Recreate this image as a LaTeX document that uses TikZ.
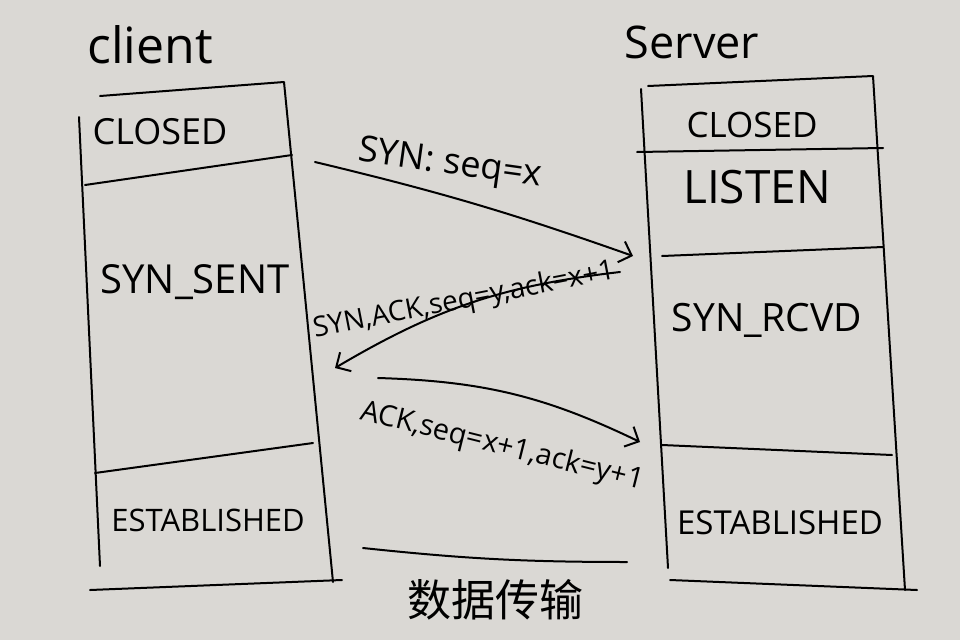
\documentclass[tikz,border=0pt]{standalone}
\usepackage{fontspec}
\setmainfont{Open Sans}
\newfontfamily\cjk{Noto Sans CJK SC}
\usetikzlibrary{arrows.meta}
\definecolor{paper}{RGB}{218,216,212}
\newcommand{\fs}[1]{\fontsize{#1}{#1}\selectfont}
\tikzset{
  pen/.style={line width=2pt, line cap=round, line join=round},
  msg/.style={pen, -{Straight Barb[length=11pt,width=22pt]}},
  state/.style={inner sep=0pt},
}
\begin{document}
\begin{tikzpicture}[x=1pt,y=-1pt]
	\useasboundingbox (0,0) rectangle (960,640);
	\fill[paper] (0,0) rectangle (960,640);
	% client side
	\node[state] (client) at (150,45) {\fs{50}client};
	\draw[pen] (100,96) -- (284,82) -- (333,582);
	\draw[pen] (79,117) -- (100,566);
	\draw[pen] (85,185) -- (292,155);
	\draw[pen] (95,473) -- (313,443);
	\draw[pen] (90,590) -- (342,580);
	\node[state] (cclosed) at (160,132) {\fs{36}CLOSED};
	\node[state] (csent) at (195,282) {\fs{40}SYN\_SENT};
	\node[state] (cest) at (208,520) {\fs{31}ESTABLISHED};
	% server side
	\node[state] (server) at (692,42) {\fs{45}Server};
	\draw[pen] (648,86) -- (873,76) -- (905,590);
	\draw[pen] (641,89) -- (668,568);
	\draw[pen] (637,152) -- (883,148);
	\draw[pen] (662,256) -- (883,247);
	\draw[pen] (662,445) -- (892,455);
	\draw[pen] (670,580) -- (917,590);
	\node[state] (sclosed) at (752,125) {\fs{35}CLOSED};
	\node[state] (slisten) at (757,187) {\fs{46}LISTEN};
	\node[state] (srcvd) at (767,320) {\fs{39}SYN\_RCVD};
	\node[state] (sest) at (780,523) {\fs{33}ESTABLISHED};
	% handshake
	\coordinate (synA) at (315,162);
	\coordinate (synB) at (633,256);
	\coordinate (ackA) at (620,272);
	\coordinate (ackB) at (335,368);
	\coordinate (finA) at (378,378);
	\coordinate (finB) at (640,442);
	\draw[msg] (synA) to[bend left=3] (synB);
	\draw[msg] (ackA) to[bend right=12] (ackB);
	\draw[msg] (finA) to[bend left=12] (finB);
	\node[state, rotate=-8] (synlbl) at (450,165) {\fs{36}SYN: seq=x};
	\node[state, rotate=11] (acklbl) at (464,301) {\fs{28}SYN,ACK,seq=y,ack=x+1};
	\node[state, rotate=-14] (finlbl) at (502,447) {\fs{29}ACK,seq=x+1,ack=y+1};
	% data
	\coordinate (dataA) at (363,548);
	\coordinate (dataB) at (627,562);
	\draw[pen] (dataA) to[bend right=3] (dataB);
	\node[state] (data) at (495,600) {\cjk\fs{44}数据传输};
\end{tikzpicture}
\end{document}
